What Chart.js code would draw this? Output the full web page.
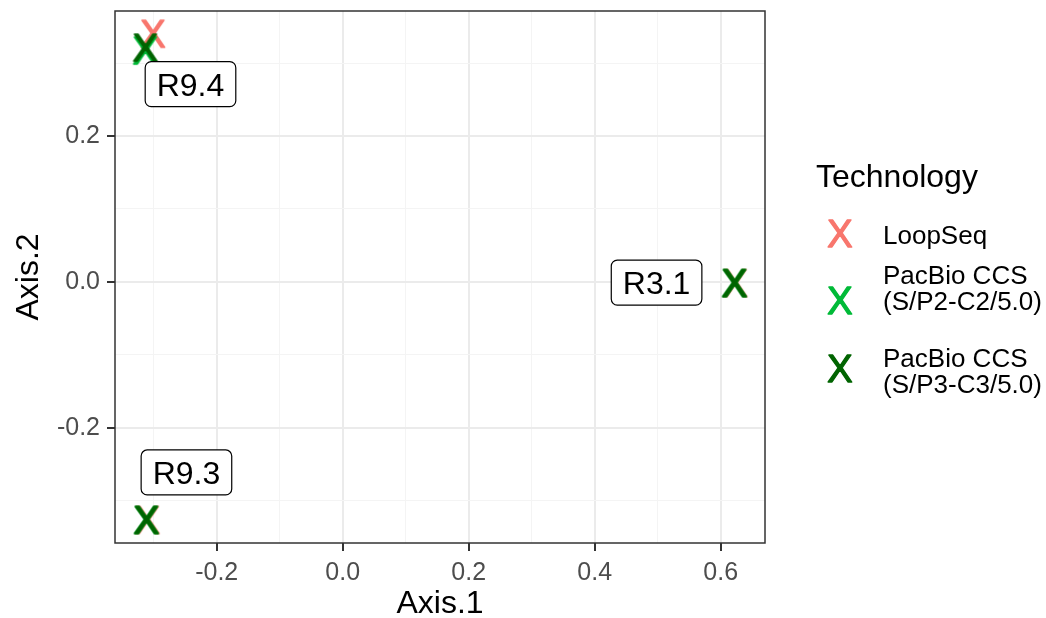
<!DOCTYPE html>
<html>
<head>
<meta charset="utf-8">
<script src="https://cdn.jsdelivr.net/npm/chart.js@4.4.1/dist/chart.umd.min.js"></script>
<style>
  body { margin: 0; background: #fff; }
  canvas { display: block; }
</style>
</head>
<body>
<canvas id="pcoa" width="1046" height="618"></canvas>
<script>
// sample names, one per point of each technology
const samples = ["R9.4", "R9.3", "R3.1"];

// ordination coordinates
const loopSeqX = [-0.301, -0.310, 0.623];
const loopSeqY = [0.341, -0.326, -0.001];
const p2c2X = [-0.313, -0.3115, 0.622];
const p2c2Y = [0.318, -0.326, -0.001];
const p3c3X = [-0.313, -0.3115, 0.622];
const p3c3Y = [0.322, -0.326, -0.001];

const techNames = ["LoopSeq", "PacBio CCS (S/P2-C2/5.0)", "PacBio CCS (S/P3-C3/5.0)"];
const legendLines = [["LoopSeq"], ["PacBio CCS", "(S/P2-C2/5.0)"], ["PacBio CCS", "(S/P3-C3/5.0)"]];
const techColors = ["#F8766D", "#00BA38", "#006400"];

// axis ticks
const majorX = [-0.2, 0.0, 0.2, 0.4, 0.6];
const minorX = [-0.3, -0.1, 0.1, 0.3, 0.5];
const tickLabelsX = ["-0.2", "0.0", "0.2", "0.4", "0.6"];
const majorY = [-0.2, 0.0, 0.2];
const minorY = [-0.3, -0.1, 0.1, 0.3];
const tickLabelsY = ["-0.2", "0.0", "0.2"];

const FONT = "'Liberation Sans', Arial, Helvetica, sans-serif";
Chart.defaults.font.family = FONT;

// ggplot draws these points as the letter "X"
function glyph(color) {
  const c = document.createElement("canvas");
  c.width = 44;
  c.height = 44;
  const g = c.getContext("2d");
  g.font = "38px " + FONT;
  g.fillStyle = color;
  g.strokeStyle = color;
  g.lineWidth = 1.3;
  g.lineJoin = "round";
  g.textAlign = "center";
  g.textBaseline = "alphabetic";
  const by = 22 + 38 * 0.716 / 2;
  g.fillText("X", 22, by);
  g.strokeText("X", 22, by);
  return c;
}
const glyphs = techColors.map(glyph);

const toPoints = (xs, ys) => xs.map((x, i) => ({ x: x, y: ys[i], sample: samples[i] }));

const near = (list, v) => list.findIndex(m => Math.abs(m - v) < 1e-9);

function axisOpts(major, minor, labels, min, max) {
  return {
    type: "linear",
    min: min,
    max: max,
    afterBuildTicks: scale => {
      scale.ticks = major.concat(minor).sort((a, b) => a - b).map(v => ({ value: v }));
    },
    ticks: {
      autoSkip: false,
      maxRotation: 0,
      color: "#4D4D4D",
      font: { size: 25 },
      padding: 7,
      callback: v => {
        const i = near(major, v);
        return i >= 0 ? labels[i] : "";
      }
    },
    grid: {
      color: ctx => near(major, ctx.tick.value) >= 0 ? "#EBEBEB" : "#F4F4F4",
      lineWidth: ctx => near(major, ctx.tick.value) >= 0 ? 2 : 1,
      tickColor: ctx => near(major, ctx.tick.value) >= 0 ? "#333333" : "rgba(0,0,0,0)",
      tickWidth: 2,
      tickLength: 8
    },
    border: { display: false }
  };
}

// fixed axis sizes so the panel sits where ggplot put it
const fixSize = (w, h) => s => {
  if (w) s.width = w;
  if (h) s.height = h;
  s.paddingTop = 0;
  s.paddingBottom = 0;
  s.paddingLeft = 0;
  s.paddingRight = 0;
};

const xAxis = axisOpts(majorX, minorX, tickLabelsX, -0.3614, 0.6703);
xAxis.title = { display: true, text: "Axis.1", color: "#000", font: { size: 32, lineHeight: 1 }, padding: { top: 0, bottom: -2 } };
xAxis.afterFit = fixSize(0, 75);

const yAxis = axisOpts(majorY, minorY, tickLabelsY, -0.3583, 0.3716);
yAxis.title = { display: true, text: "Axis.2", color: "#000", font: { size: 32, lineHeight: 1 }, padding: { top: 13, bottom: 0 } };
yAxis.afterFit = fixSize(115, 0);

// panel border, sample labels and the legend
const decorations = {
  id: "decorations",
  afterDatasetsDraw(chart, args, opts) {
    const ctx = chart.ctx;
    const xs = chart.scales.x, ys = chart.scales.y;
    ctx.save();
    ctx.font = "32px " + FONT;
    ctx.textAlign = "center";
    ctx.textBaseline = "alphabetic";
    samples.forEach((name, i) => {
      const cx = xs.getPixelForValue(p3c3X[i]) + opts.nudge[i][0];
      const cy = ys.getPixelForValue(p3c3Y[i]) + opts.nudge[i][1];
      const w = ctx.measureText(name).width + 23, h = 45, r = 6;
      const x0 = cx - w / 2, y0 = cy - h / 2;
      ctx.beginPath();
      ctx.moveTo(x0 + r, y0);
      ctx.arcTo(x0 + w, y0, x0 + w, y0 + h, r);
      ctx.arcTo(x0 + w, y0 + h, x0, y0 + h, r);
      ctx.arcTo(x0, y0 + h, x0, y0, r);
      ctx.arcTo(x0, y0, x0 + w, y0, r);
      ctx.closePath();
      ctx.fillStyle = "#fff";
      ctx.fill();
      ctx.lineWidth = 1.2;
      ctx.strokeStyle = "#000";
      ctx.stroke();
      ctx.fillStyle = "#000";
      ctx.fillText(name, cx, cy + 32 * 0.716 / 2);
    });
    ctx.restore();
  },
  afterDraw(chart, args, opts) {
    const ctx = chart.ctx;
    const a = chart.chartArea;
    ctx.save();
    ctx.strokeStyle = "#333333";
    ctx.lineWidth = 1.5;
    ctx.strokeRect(a.left, a.top, a.right - a.left, a.bottom - a.top);

    const lx = a.right + 51;
    ctx.fillStyle = "#000";
    ctx.textAlign = "left";
    ctx.textBaseline = "alphabetic";
    ctx.font = "32px " + FONT;
    ctx.fillText("Technology", lx, opts.titleBaseline);
    ctx.font = "26px " + FONT;
    legendLines.forEach((lines, i) => {
      const g = glyphs[i];
      ctx.drawImage(g, lx + 24 - g.width / 2, opts.keyY[i] - g.height / 2);
      lines.forEach((t, j) => {
        ctx.fillText(t, lx + 67, opts.textY[i] + j * 26);
      });
    });
    ctx.restore();
  }
};

const datasets = [
  [loopSeqX, loopSeqY],
  [p2c2X, p2c2Y],
  [p3c3X, p3c3Y]
].map((xy, i) => ({
  label: techNames[i],
  data: toPoints(xy[0], xy[1]),
  pointStyle: glyphs[i],
  borderColor: techColors[i],
  backgroundColor: techColors[i],
  order: 3 - i
}));

new Chart(document.getElementById("pcoa"), {
  type: "scatter",
  data: { datasets: datasets },
  options: {
    responsive: false,
    animation: false,
    layout: { autoPadding: false, padding: { left: 0, top: 11, right: 281, bottom: 0 } },
    scales: { x: xAxis, y: yAxis },
    plugins: {
      legend: { display: false },
      tooltip: { enabled: false },
      decorations: {
        nudge: [[45, 37], [40, -47], [-78, 0]],
        titleBaseline: 187,
        keyY: [233, 300, 368],
        textY: [244, 284, 367]
      }
    }
  },
  plugins: [decorations]
});
</script>
</body>
</html>
